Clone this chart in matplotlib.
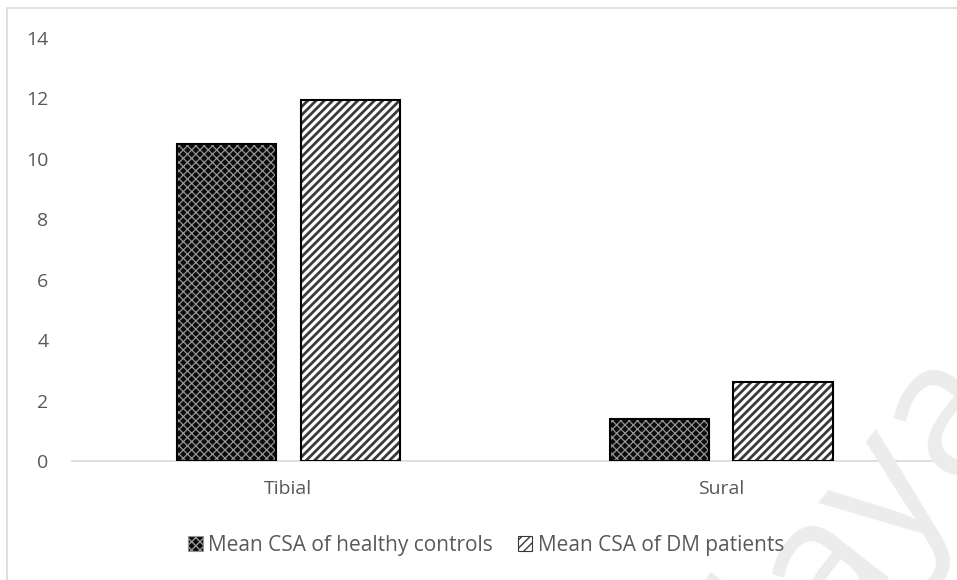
import matplotlib.pyplot as plt
from matplotlib.patches import Patch, Rectangle
import numpy as np

plt.rcParams['font.family'] = ['Open Sans', 'DejaVu Sans']

nerves = ['Tibial', 'Sural']
healthy_csa = [10.5, 1.4]
dm_csa = [11.95, 2.6]
series_labels = ['Mean CSA of healthy controls', 'Mean CSA of DM patients']
y_ticks = [0, 2, 4, 6, 8, 10, 12, 14]

text_grey = '#595959'
bar_w = 0.229
offset = 0.143

fig = plt.figure(figsize=(9.57, 5.8), dpi=100)
ax = fig.add_axes([0.0752, 0.2052, 0.9044, 0.7293])
ax.set_facecolor('none')

# faint watermark behind the plot
fig.text(1.06, 0.32, 'Malaya', rotation=52, rotation_mode='anchor', ha='right',
         va='baseline', fontsize=135, color='#ececec', zorder=0)

x = np.arange(len(nerves))

# patterned fill first, then a plain black outline on top
plt.rcParams['hatch.linewidth'] = 0.9
ax.bar(x - offset, healthy_csa, bar_w, facecolor='#0c0c0c', edgecolor='#959595',
       hatch='xxxx', linewidth=0, zorder=2)
plt.rcParams['hatch.linewidth'] = 2.0
ax.bar(x + offset, dm_csa, bar_w, facecolor='white', edgecolor='#3a3a3a',
       hatch='////', linewidth=0, zorder=2)
ax.bar(x - offset, healthy_csa, bar_w, fill=False, edgecolor='black', linewidth=1.5, zorder=3)
ax.bar(x + offset, dm_csa, bar_w, fill=False, edgecolor='black', linewidth=1.5, zorder=3)

ax.set_xlim(-0.5, 1.5)
ax.set_ylim(0, 14)
ax.set_yticks(y_ticks)
ax.set_xticks(x)
ax.set_xticklabels(nerves)
ax.tick_params(axis='y', length=0, pad=17, labelsize=14, labelcolor=text_grey)
ax.tick_params(axis='x', length=0, pad=14, labelsize=14, labelcolor=text_grey)
for side in ['top', 'right', 'left']:
    ax.spines[side].set_visible(False)
ax.spines['bottom'].set_color('#d9d9d9')
ax.spines['bottom'].set_linewidth(1.2)

plt.rcParams['hatch.linewidth'] = 1.0
handles = [
    Patch(facecolor='#0c0c0c', edgecolor='#959595', hatch='xxxx', linewidth=0.8),
    Patch(facecolor='white', edgecolor='#3a3a3a', hatch='////', linewidth=0.8),
]
fig.legend(handles, series_labels, loc='center', bbox_to_anchor=(0.508, 0.06),
           ncol=2, frameon=False, fontsize=15, labelcolor=text_grey,
           handlelength=0.7, handleheight=0.7, handletextpad=0.25, columnspacing=1.2)

# chart area border
fig.patches.append(Rectangle((7 / 957, -0.05), 1.0, 1.05 - 8 / 580, transform=fig.transFigure,
                             fill=False, edgecolor='#d9d9d9', linewidth=1.2, zorder=0))

fig.savefig('out.png', dpi=100)
